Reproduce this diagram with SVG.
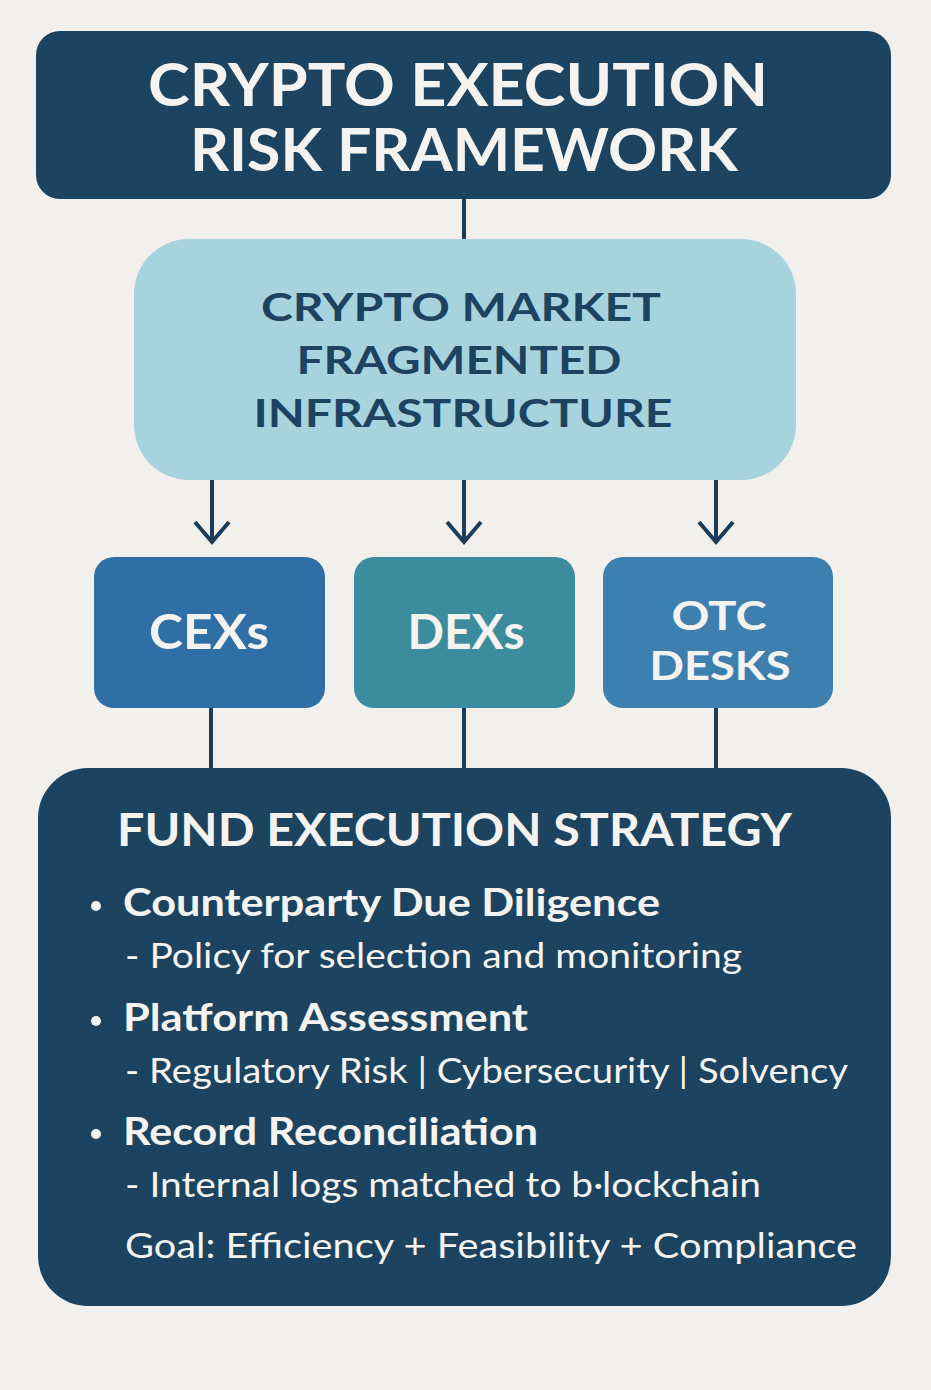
<svg xmlns="http://www.w3.org/2000/svg" width="931" height="1390" viewBox="0 0 931 1390">
<style>
.bg{fill:#f2f0ec}
.navy{fill:#1c435f}
.t{font-family:Lato,"Open Sans","Liberation Sans",sans-serif;font-weight:700;fill:#f5f3ef}
.tm{font-family:Lato,"Open Sans","Liberation Sans",sans-serif;font-weight:700;fill:#1c435f}
.b{font-family:Lato,"Open Sans","Liberation Sans",sans-serif;font-weight:700;fill:#f5f3ef}
.s{font-family:Lato,"Open Sans","Liberation Sans",sans-serif;font-weight:400;fill:#f5f3ef}
.conn{stroke:#1c3d57;stroke-width:4;fill:none}
</style>
<rect class="bg" x="0" y="0" width="931" height="1390"/>
<g id="connectors">
<line class="conn" x1="464" y1="198" x2="464" y2="240"/>
<line class="conn" x1="212" y1="480" x2="212" y2="542"/>
<polyline class="conn" points="195,522 212,542 229,522"/>
<line class="conn" x1="464" y1="480" x2="464" y2="542"/>
<polyline class="conn" points="447,522 464,542 481,522"/>
<line class="conn" x1="716" y1="480" x2="716" y2="542"/>
<polyline class="conn" points="699,522 716,542 733,522"/>
<line class="conn" x1="211" y1="708" x2="211" y2="769"/>
<line class="conn" x1="464" y1="708" x2="464" y2="769"/>
<line class="conn" x1="716" y1="708" x2="716" y2="769"/>
</g>
<g id="title">
<rect class="navy" x="36" y="31" width="855" height="168" rx="24"/>
<text class="t" x="458" y="106" font-size="60" text-anchor="middle" textLength="620" lengthAdjust="spacingAndGlyphs">CRYPTO EXECUTION</text>
<text class="t" x="464" y="171" font-size="60" text-anchor="middle" textLength="548" lengthAdjust="spacingAndGlyphs">RISK FRAMEWORK</text>
</g>
<g id="market">
<rect x="134" y="239" width="662" height="241" rx="55" fill="#a7d3df"/>
<text class="tm" x="461" y="321" font-size="39" text-anchor="middle" textLength="400" lengthAdjust="spacingAndGlyphs">CRYPTO MARKET</text>
<text class="tm" x="459" y="374" font-size="39" text-anchor="middle" textLength="325" lengthAdjust="spacingAndGlyphs">FRAGMENTED</text>
<text class="tm" x="463" y="427" font-size="39" text-anchor="middle" textLength="419" lengthAdjust="spacingAndGlyphs">INFRASTRUCTURE</text>
</g>
<g id="cexs">
<rect x="94" y="557" width="231" height="151" rx="20" fill="#2f6fa6"/>
<text class="t" x="209" y="649" font-size="48" text-anchor="middle" textLength="120" lengthAdjust="spacingAndGlyphs">CEXs</text>
</g>
<g id="dexs">
<rect x="354" y="557" width="221" height="151" rx="20" fill="#3b8c9d"/>
<text class="t" x="466" y="649" font-size="48" text-anchor="middle" textLength="117" lengthAdjust="spacingAndGlyphs">DEXs</text>
</g>
<g id="otc">
<rect x="603" y="557" width="230" height="151" rx="20" fill="#3d7fae"/>
<text class="t" x="719" y="630" font-size="40" text-anchor="middle" textLength="95" lengthAdjust="spacingAndGlyphs">OTC</text>
<text class="t" x="720" y="680" font-size="40" text-anchor="middle" textLength="141" lengthAdjust="spacingAndGlyphs">DESKS</text>
</g>
<g id="strategy">
<rect class="navy" x="38" y="768" width="853" height="538" rx="50"/>
<text class="t" x="117" y="846" font-size="45" textLength="675" lengthAdjust="spacingAndGlyphs">FUND EXECUTION STRATEGY</text>
<circle cx="96" cy="906" r="5" fill="#f5f3ef"/>
<text class="b" x="123" y="916" font-size="38" textLength="537" lengthAdjust="spacingAndGlyphs">Counterparty Due Diligence</text>
<text class="s" x="125" y="968" font-size="35" textLength="617" lengthAdjust="spacingAndGlyphs">- Policy for selection and monitoring</text>
<circle cx="96" cy="1021" r="5" fill="#f5f3ef"/>
<text class="b" x="123" y="1031" font-size="38" textLength="405" lengthAdjust="spacingAndGlyphs">Platform Assessment</text>
<text class="s" x="125" y="1083" font-size="35" textLength="723" lengthAdjust="spacingAndGlyphs">- Regulatory Risk | Cybersecurity | Solvency</text>
<circle cx="96" cy="1134" r="5" fill="#f5f3ef"/>
<text class="b" x="123" y="1145" font-size="38" textLength="415" lengthAdjust="spacingAndGlyphs">Record Reconciliation</text>
<text class="s" x="125" y="1197" font-size="35" textLength="636" lengthAdjust="spacingAndGlyphs">- Internal logs matched to b·lockchain</text>
<text class="s" x="125" y="1258" font-size="35" textLength="732" lengthAdjust="spacingAndGlyphs">Goal: Efficiency + Feasibility + Compliance</text>
</g>
</svg>
